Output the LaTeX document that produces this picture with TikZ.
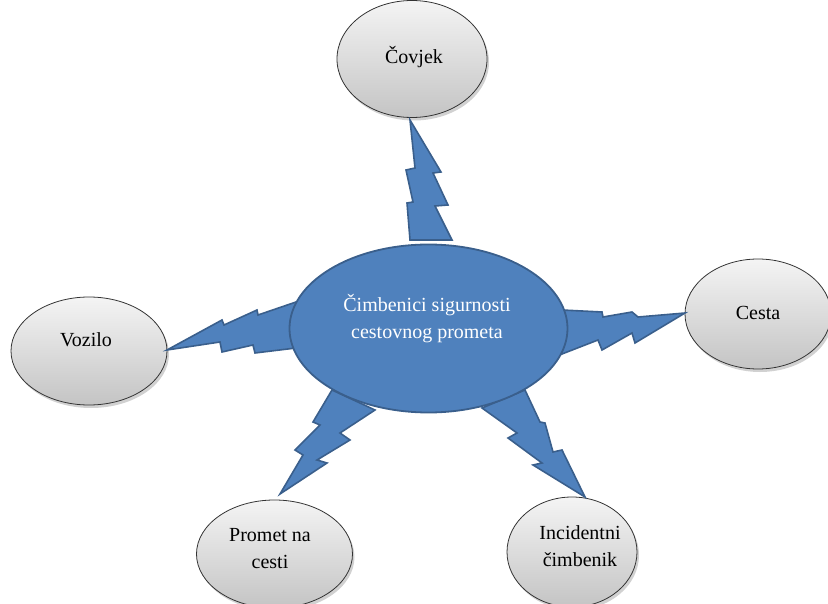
\documentclass[tikz,border=0pt]{standalone}
\usepackage{fontspec}
\setmainfont{Liberation Serif}
\usetikzlibrary{shapes.geometric,shadows}
\definecolor{bluefill}{HTML}{4F81BD}
\definecolor{blueedge}{HTML}{3A5F8C}
\definecolor{graytop}{HTML}{F4F4F4}
\definecolor{graybot}{HTML}{C4C4C4}
\tikzset{
  outer/.style={ellipse, draw=black!80, line width=0.8pt, top color=graytop, bottom color=graybot,
    inner sep=0pt, drop shadow={shadow xshift=2pt, shadow yshift=-3pt, opacity=0.18, fill=black}},
  center/.style={ellipse, draw=blueedge, line width=1.8pt, fill=bluefill, inner sep=0pt},
  bolt/.style={draw=blueedge, line width=1.6pt, fill=bluefill, line join=miter},
  lbl/.style={font=\fontsize{20}{27}\selectfont, align=center, inner sep=0pt},
}
\begin{document}
\begin{tikzpicture}[x=1pt,y=-1pt]
\useasboundingbox (0,0) rectangle (828,604);
% outer ellipses
\node[outer, minimum width=150pt, minimum height=117pt] (covjek) at (412,59) {};
\node[outer, minimum width=146pt, minimum height=110pt] (cesta) at (758,314) {};
\node[outer, minimum width=156pt, minimum height=108pt] (vozilo) at (89,351) {};
\node[outer, minimum width=156pt, minimum height=108pt] (promet) at (274.5,554) {};
\node[outer, minimum width=130pt, minimum height=110pt] (incid) at (572,552) {};
% bolts
\draw[bolt] (410,120) -- (441,172) -- (433,173) -- (448,205) -- (435,206) -- (452,240)
  -- (410,240) -- (407,203) -- (413,202) -- (406,170) -- (415,168) -- cycle;
\draw[bolt] (167,350) -- (222,320) -- (224,325) -- (257,310) -- (258,315) -- (296,302)
  -- (296,348) -- (255,353) -- (253,345) -- (222,352) -- (220,342) -- cycle;
\draw[bolt] (685,313) -- (638,317) -- (632,312) -- (603,317) -- (602,312) -- (562,310)
  -- (562,354) -- (598,340) -- (602,350) -- (632,333) -- (635,343) -- cycle;
\draw[bolt] (280,494) -- (303,455) -- (295,450) -- (320,425) -- (313,422) -- (332,390)
  -- (375,410) -- (340,433) -- (350,440) -- (317,460) -- (327,463) -- cycle;
\draw[bolt] (585,497) -- (533,465) -- (542,463) -- (508,438) -- (517,433) -- (482,408)
  -- (525,390) -- (540,422) -- (545,423) -- (553,452) -- (562,450) -- cycle;
% central ellipse
\node[center, minimum width=278pt, minimum height=168pt] (mid) at (428.5,328.5) {};
% labels
\node[lbl, text=white] (midtxt) at (427,319) {Čimbenici sigurnosti\\cestovnog prometa};
\node[lbl] (covjektxt) at (414,57) {Čovjek};
\node[lbl] (cestatxt) at (758,313) {Cesta};
\node[lbl] (voziltxt) at (86,340) {Vozilo};
\node[lbl] (promettxt) at (270,549) {Promet na\\cesti};
\node[lbl] (incidtxt) at (580,546) {Incidentni\\čimbenik};
\end{tikzpicture}
\end{document}
